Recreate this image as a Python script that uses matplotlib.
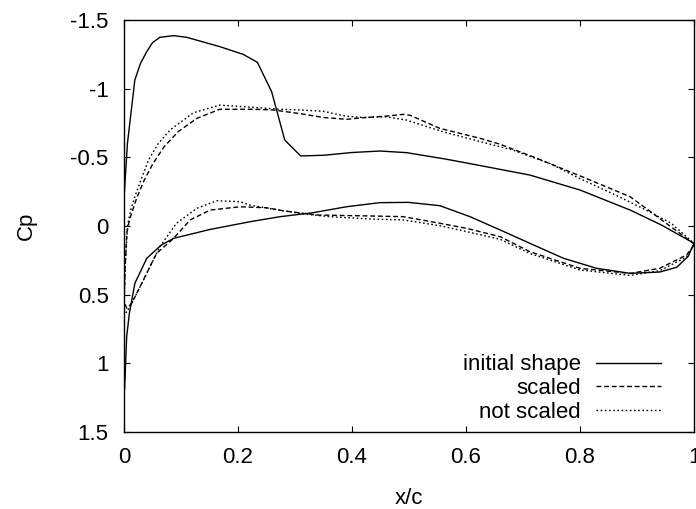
import matplotlib
matplotlib.use("Agg")
import matplotlib.pyplot as plt

plt.rcParams['font.family'] = ['Liberation Sans', 'DejaVu Sans']

# initial shape
init_upper_x = [0.0, 0.0, 0.006, 0.019, 0.029, 0.040, 0.050, 0.063, 0.087, 0.110, 0.168, 0.209, 0.234,
                0.259, 0.282, 0.310, 0.35, 0.40, 0.449, 0.496, 0.566, 0.625, 0.712, 0.8, 0.888, 0.943, 1.0]
init_upper_cp = [1.2, -0.2, -0.6, -1.063, -1.185, -1.27, -1.335, -1.374, -1.386, -1.374, -1.306, -1.25, -1.192,
                 -0.978, -0.626, -0.51, -0.515, -0.535, -0.546, -0.534, -0.486, -0.44, -0.371, -0.262, -0.116, -0.007, 0.126]
init_lower_x = [0.0, 0.001, 0.0047, 0.0094, 0.019, 0.04, 0.065, 0.087, 0.151, 0.221, 0.274, 0.332, 0.39,
                0.449, 0.499, 0.554, 0.607, 0.66, 0.712, 0.771, 0.829, 0.888, 0.94, 0.97, 0.99, 1.0]
init_lower_cp = [1.2, 1.19, 0.806, 0.636, 0.418, 0.235, 0.14, 0.09, 0.025, -0.031, -0.068, -0.097, -0.14,
                 -0.17, -0.172, -0.148, -0.068, 0.029, 0.126, 0.235, 0.308, 0.345, 0.335, 0.3, 0.22, 0.126]

# scaled
scaled_upper_x = [0.0, 0.002, 0.005, 0.010, 0.022, 0.035, 0.051, 0.070, 0.095, 0.128, 0.168, 0.227, 0.262,
                  0.309, 0.35, 0.391, 0.42, 0.46, 0.49, 0.502, 0.554, 0.625, 0.66, 0.72, 0.80, 0.888, 0.916,
                  0.975, 1.0]
scaled_upper_cp = [0.55, 0.3, 0.05, -0.05, -0.2, -0.33, -0.456, -0.575, -0.687, -0.784, -0.85, -0.85, -0.845,
                   -0.818, -0.79, -0.777, -0.789, -0.80, -0.813, -0.806, -0.711, -0.638, -0.595, -0.5, -0.365,
                   -0.213, -0.128, 0.053, 0.13]
scaled_lower_x = [0.0, 0.005, 0.0135, 0.034, 0.057, 0.087, 0.116, 0.151, 0.204, 0.25, 0.279, 0.338, 0.432,
                  0.49, 0.554, 0.601, 0.66, 0.712, 0.8, 0.888, 0.94, 0.987, 1.0]
scaled_lower_cp = [0.55, 0.60, 0.563, 0.393, 0.2, 0.09, -0.044, -0.116, -0.14, -0.133, -0.111, -0.08, -0.073,
                   -0.068, -0.02, 0.017, 0.078, 0.187, 0.308, 0.345, 0.308, 0.211, 0.138]

# not scaled
nots_upper_x = [0.0, 0.002, 0.006, 0.012, 0.019, 0.030, 0.043, 0.060, 0.081, 0.122, 0.168, 0.227, 0.274,
                0.309, 0.35, 0.389, 0.42, 0.46, 0.495, 0.559, 0.62, 0.682, 0.75, 0.799, 0.86, 0.916, 0.96, 1.0]
nots_upper_cp = [0.6, 0.3, 0.0, -0.12, -0.213, -0.34, -0.48, -0.6, -0.70, -0.825, -0.88, -0.864, -0.85,
                 -0.845, -0.835, -0.80, -0.79, -0.795, -0.772, -0.687, -0.62, -0.553, -0.45, -0.347, -0.23,
                 -0.116, -0.02, 0.126]
nots_lower_x = [0.0, 0.004, 0.0105, 0.037, 0.063, 0.092, 0.128, 0.163, 0.204, 0.221, 0.279, 0.321, 0.361,
                0.432, 0.49, 0.554, 0.60, 0.66, 0.712, 0.8, 0.888, 0.94, 0.987, 1.0]
nots_lower_cp = [0.6, 0.63, 0.588, 0.37, 0.15, -0.02, -0.129, -0.184, -0.177, -0.152, -0.111, -0.085, -0.068,
                 -0.051, -0.044, -0.002, 0.04, 0.097, 0.20, 0.32, 0.36, 0.325, 0.225, 0.138]

labels = ["initial shape", "scaled", "not scaled"]
x_ticks = [0, 0.2, 0.4, 0.6, 0.8, 1]
x_ticklabels = ["0", "0.2", "0.4", "0.6", "0.8", "1"]
y_ticks = [-1.5, -1, -0.5, 0, 0.5, 1, 1.5]
y_ticklabels = ["-1.5", "-1", "-0.5", "0", "0.5", "1", "1.5"]

fig = plt.figure(figsize=(6.96, 5.09), dpi=100)
ax = fig.add_axes([124/696, 1-432/509, 570/696, 412/509])

def loop(ux, ucp, lx, lcp):
    return list(reversed(lx)) + list(ux), list(reversed(lcp)) + list(ucp)

x, y = loop(init_upper_x, init_upper_cp, init_lower_x, init_lower_cp)
ax.plot(x, y, color='black', lw=1.0, linestyle='-', label=labels[0])
x, y = loop(scaled_upper_x, scaled_upper_cp, scaled_lower_x, scaled_lower_cp)
ax.plot(x, y, color='black', lw=1.0, linestyle=(0, (3.5, 2.0)), label=labels[1])
x, y = loop(nots_upper_x, nots_upper_cp, nots_lower_x, nots_lower_cp)
ax.plot(x, y, color='black', lw=1.0, linestyle=(0, (1.2, 1.8)), label=labels[2])

ax.set_xlim(0, 1)
ax.set_ylim(1.5, -1.5)
ax.set_xticks(x_ticks)
ax.set_xticklabels(x_ticklabels)
ax.set_yticks(y_ticks)
ax.set_yticklabels(y_ticklabels)
ax.tick_params(direction='in', length=4.5, width=0.8, top=True, right=True,
               labelsize=16, pad=11)
for s in ax.spines.values():
    s.set_linewidth(1.0)

ax.set_xlabel("x/c", fontsize=16, labelpad=14)
ax.set_ylabel("Cp", fontsize=16, labelpad=24)

leg = ax.legend(loc='lower right', bbox_to_anchor=(0.965, -0.01), frameon=False, markerfirst=False,
                fontsize=16, handlelength=2.9, handletextpad=0.7, labelspacing=0.12,
                borderaxespad=0.2)
for t in leg.get_texts():
    t.set_ha('right')

fig.savefig("out.png", dpi=100)
